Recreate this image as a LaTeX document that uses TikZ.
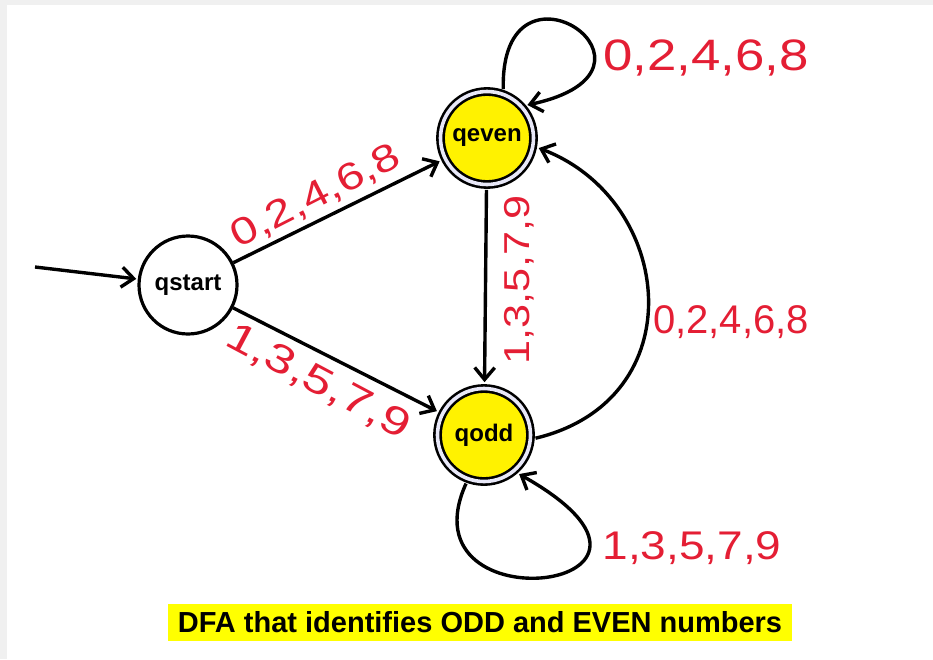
\documentclass[tikz,border=0pt]{standalone}
\usepackage{fontspec}
\usepackage{graphicx}
\setmainfont{Liberation Sans}
\usetikzlibrary{arrows.meta}
\definecolor{hand}{RGB}{228,30,52}
\definecolor{hilite}{RGB}{255,255,0}
\definecolor{stateyellow}{RGB}{255,242,0}
\definecolor{rim}{RGB}{232,232,248}
\definecolor{framegray}{RGB}{240,240,240}
\begin{document}
\begin{tikzpicture}[x=1pt,y=-1pt,
  plainstate/.style={circle,draw,line width=3.2pt,minimum size=98pt,inner sep=0pt,
    font=\fontsize{24}{26}\selectfont\bfseries},
  acceptstate/.style={circle,draw,line width=2.6pt,double=rim,double distance=3.6pt,
    fill=stateyellow,minimum size=93pt,inner sep=0pt,
    font=\fontsize{24}{26}\selectfont\bfseries},
  trans/.style={line width=3.4pt,-{Straight Barb[length=12pt,width=20pt]}},
  handlabel/.style={text=hand,inner sep=0pt}
]
\useasboundingbox (0,0) rectangle (933,659);
\fill[framegray] (0,0) rectangle (933,659);
\fill[white] (7,5) rectangle (933,659);

\node[plainstate] (qstart) at (188,285) {qstart};
\node[acceptstate] (qeven) at (487,138) {qeven};
\node[acceptstate] (qodd) at (484,435) {qodd};
\coordinate (init) at (35,267);

\draw[trans,shorten >=1.5pt] (init) -- (qstart);
\draw[trans,shorten >=5pt] (qstart) -- (qeven);
\draw[trans,shorten >=5pt] (qstart) -- (qodd);
\draw[trans,shorten <=4pt,shorten >=5pt] (qeven) -- (qodd);
\draw[trans,shorten <=4pt,shorten >=5pt] (qodd.-5) .. controls (695,400) and (675,200) .. (qeven.-10);
\draw[trans,shorten <=4pt,shorten >=5pt] (qeven.70) .. controls (500,-60) and (690,70) .. (qeven.42);
\draw[trans,shorten <=4pt,shorten >=5pt] (qodd.250) .. controls (400,630) and (725,590) .. (qodd.-50);

\node[handlabel] (lloopeven) at (706,58) {\scalebox{1.2}[1]{\fontsize{44}{48}\selectfont 0,2,4,6,8}};
\node[handlabel,rotate=27] (lup) at (316,197) {\scalebox{1.25}[1]{\fontsize{38}{42}\selectfont 0,2,4,6,8}};
\node[handlabel,rotate=-28] (ldown) at (318,382) {\scalebox{1.3}[1]{\fontsize{40}{44}\selectfont 1,3,5,7,9}};
\node[handlabel,rotate=90] (lvert) at (519,280) {\scalebox{1.2}[1]{\fontsize{36}{40}\selectfont 1,3,5,7,9}};
\node[handlabel] (lback) at (731,322) {\fontsize{40}{44}\selectfont 0,2,4,6,8};
\node[handlabel] (lloopodd) at (692,548) {\scalebox{1.15}[1]{\fontsize{40}{44}\selectfont 1,3,5,7,9}};

\node[fill=hilite,inner xsep=10pt,inner ysep=7pt,text height=22pt,text depth=1pt] (caption) at (480,622)
  {\fontsize{29}{32}\selectfont\bfseries DFA that identifies ODD and EVEN numbers};
\end{tikzpicture}
\end{document}
